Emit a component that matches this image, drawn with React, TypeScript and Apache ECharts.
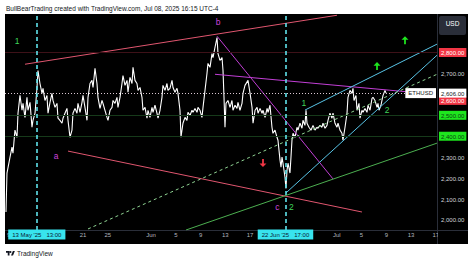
import React, { useEffect, useRef } from "react";
import * as echarts from "echarts";

// ETHUSD price path: [day index (0 = 1 May 2025), price]
const pricePoints: [number, number][] = [
  [7.56, 2038], [7.72, 2224], [8.21, 2300], [8.53, 2348], [8.69, 2319], [9.01, 2429], [9.34, 2395], [9.5, 2510],
  [9.82, 2595], [10.15, 2524], [10.31, 2557], [10.63, 2490], [10.95, 2586], [11.11, 2524], [11.44, 2562], [11.76, 2443],
  [11.92, 2476], [12.25, 2510], [12.57, 2633], [12.73, 2714], [13.05, 2652], [13.38, 2605], [13.54, 2629], [13.86, 2571],
  [14.18, 2595], [14.35, 2510], [14.67, 2562], [14.99, 2605], [15.15, 2571], [15.48, 2538], [15.8, 2557], [15.96, 2486],
  [16.28, 2476], [16.61, 2462], [16.77, 2486], [17.09, 2510], [17.41, 2533], [17.58, 2476], [17.9, 2395], [18.22, 2429],
  [18.38, 2510], [18.71, 2533], [19.03, 2510], [19.19, 2557], [19.52, 2514], [19.84, 2562], [20.0, 2595], [20.32, 2538],
  [20.65, 2476], [20.81, 2586], [21.13, 2652], [21.45, 2667], [21.62, 2633], [21.94, 2724], [22.26, 2652], [22.42, 2586],
  [22.75, 2533], [23.07, 2571], [23.23, 2557], [23.55, 2524], [23.88, 2490], [24.04, 2476], [24.36, 2524], [24.69, 2538],
  [24.85, 2571], [25.17, 2557], [25.49, 2586], [25.65, 2538], [25.98, 2586], [26.3, 2652], [26.46, 2690], [26.79, 2643],
  [27.11, 2667], [27.27, 2610], [27.59, 2681], [27.92, 2652], [28.08, 2729],
  [28.4, 2667], [28.72, 2652], [28.89, 2619], [29.21, 2633], [29.53, 2586], [29.69, 2524], [30.02, 2538], [30.34, 2486],
  [30.5, 2524], [30.82, 2490], [31.15, 2538], [31.31, 2514], [31.63, 2548], [31.95, 2510], [32.12, 2486], [32.44, 2524],
  [32.76, 2586], [32.92, 2643], [33.25, 2619], [33.57, 2652], [33.73, 2619], [34.05, 2629], [34.38, 2667], [34.54, 2633],
  [34.86, 2610], [35.19, 2629], [35.35, 2605], [35.67, 2524], [35.83, 2395], [36.15, 2462], [36.48, 2490], [36.8, 2476],
  [36.96, 2514], [37.29, 2500], [37.61, 2524], [37.77, 2514], [38.09, 2533], [38.42, 2514], [38.58, 2538], [38.9, 2524],
  [39.22, 2490], [39.39, 2538], [39.71, 2619], [40.03, 2700], [40.19, 2748], [40.52, 2729], [40.84, 2795], [41.0, 2776],
  [41.32, 2824], [41.65, 2871], [41.81, 2795], [42.13, 2762], [42.46, 2776], [42.62, 2714], [42.78, 2586], [42.94, 2443],
  [43.1, 2557], [43.42, 2571], [43.75, 2538], [44.07, 2571], [44.23, 2524], [44.56, 2548], [44.88, 2533], [45.04, 2562],
  [45.36, 2524], [45.69, 2557], [45.85, 2605], [46.17, 2643], [46.66, 2667], [46.99, 2605], [47.31, 2538], [47.47, 2462],
  [47.8, 2524], [48.12, 2538], [48.28, 2510], [48.6, 2533], [48.93, 2510], [49.09, 2524], [49.41, 2490], [49.74, 2533],
  [49.9, 2514],
  [50.21, 2548], [50.53, 2443], [50.69, 2414], [51.02, 2429], [51.34, 2395], [51.5, 2381], [51.83, 2286], [51.99, 2252],
  [52.15, 2300], [52.31, 2271], [52.63, 2205], [52.79, 2150], [52.96, 2238], [53.12, 2271], [53.44, 2224], [53.6, 2300],
  [53.76, 2381], [53.93, 2414], [54.25, 2395], [54.57, 2443], [54.73, 2429], [55.06, 2462], [55.38, 2438], [55.54, 2476],
  [55.86, 2452], [56.03, 2524], [56.19, 2462], [56.51, 2443], [56.83, 2429], [57.16, 2452], [57.48, 2429], [57.8, 2443],
  [57.96, 2438], [58.29, 2452], [58.61, 2443], [58.77, 2462], [59.1, 2438], [59.42, 2452], [59.58, 2476], [59.9, 2510],
  [60.23, 2486], [60.39, 2510], [60.71, 2462], [61.03, 2443], [61.2, 2462], [61.52, 2429], [61.84, 2414], [62.0, 2381],
  [62.33, 2443], [62.65, 2510], [62.81, 2586], [63.13, 2619], [63.46, 2605], [63.62, 2629], [63.78, 2571], [64.1, 2595],
  [64.27, 2524], [64.59, 2557], [64.75, 2486], [65.07, 2524], [65.23, 2514], [65.56, 2533], [65.88, 2514], [66.04, 2548],
  [66.37, 2524], [66.69, 2581], [66.85, 2586], [67.17, 2571], [67.5, 2538], [67.66, 2557], [67.82, 2524], [68.14, 2548],
  [68.3, 2571], [68.47, 2595], [68.79, 2619], [68.95, 2606],
];

// Drawn trend lines: [day, price] end points
const redUpperLine = [[10.63, 2744], [61.03, 2978]];
const redLowerLine = [[17.58, 2329], [65.07, 2038]];
const magentaDiagLine = [[41.65, 2878], [60.39, 2196]];
const magentaFlatLine = [[41.32, 2696], [72.83, 2611]];
const cyanUpperLine = [[55.86, 2525], [77.19, 2840]];
const cyanLowerLine = [[52.79, 2129], [77.19, 2787]];
const greenSolidLine = [[36.64, 1952], [77.19, 2367]];
const greenDashedLine = [[20.81, 1957], [77.19, 2696]];

// Horizontal levels
const redLevels = [2800, 2600];
const greenLevels = [2500, 2400];
const drawnRedLevels = [2800];
const lastPrice = 2606;
const lastPriceLabel = "2,606.00";
const symbolName = "ETHUSD";

// Vertical crosshair markers
const markerDays = [12.54, 52.71];
const markerLabels = ["13 May '25   13:00", "22 Jun '25   17:00"];

// Axis ticks
const xTickDays = [8, 20, 24, 31, 35, 39, 43, 47, 61, 65, 69, 73, 77];
const xTickLabels = ["9", "21", "25", "Jun", "5", "9", "13", "17", "Jul", "5", "9", "13", "17"];
const yTickValues = [2000, 2100, 2200, 2300, 2400, 2500, 2600, 2700, 2800];
const yTickLabels = ["2,000.00", "2,100.00", "2,200.00", "2,300.00", "2,400.00", "2,500.00", "2,600.00", "2,700.00", "2,800.00"];

// Wave annotations
const greenWaveLabels = ["1", "2", "1", "2"];
const greenWavePos = [[9.34, 2854], [53.65, 2064], [55.7, 2558], [69.11, 2525]];
const magentaWaveLabels = ["b", "a", "c"];
const magentaWavePos = [[41.81, 2944], [15.64, 2305], [51.4, 2064]];
const downArrowPos = [[49.08, 2272]];
const upArrowPos = [[67.5, 2735], [72.02, 2859]];

const FONT = "'Liberation Sans', Arial, sans-serif";
const GREEN_TXT = "#3fd65a";
const MAGENTA_TXT = "#cc44dd";
const near = (a: number, b: number) => Math.abs(a - b) < 0.001;

export default function App() {
  const ref = useRef<HTMLDivElement>(null);
  useEffect(() => {
    if (!ref.current) return;
    try {
      echarts.graphic.registerShape(
        "tvlogo",
        echarts.graphic.extendPath(
          "M0 4 H14 V22 H7 V11 H0 Z M18 4 L21 5 L22 8 L21 11 L18 12 L15 11 L14 8 L15 5 Z M27.5 4 H35.5 L28 22 H20 Z",
          {}
        )
      );
    } catch (e) {}
    const chart = echarts.init(ref.current, null, { renderer: "svg" });

    const trend = (data: number[][], color: string, type: any = "solid", width = 1) => ({
      type: "line",
      data,
      symbol: "none",
      silent: true,
      z: 4,
      lineStyle: { color, width, type },
    });

    const arrowDown = "path://M3,0L5,0L5,5L8,5L4,9L0,5L3,5Z";
    const arrowUp = "path://M3,9L5,9L5,4L8,4L4,0L0,4L3,4Z";

    const waveMark = (p: number[], text: string, color: string) => ({
      coord: p,
      symbol: "rect",
      symbolSize: 0,
      label: {
        show: true,
        position: "inside",
        formatter: text,
        color,
        textBorderWidth: 0,
        fontSize: 8.5,
        fontFamily: FONT,
      },
    });

    const option: any = {
      animation: false,
      backgroundColor: "#ffffff",
      textStyle: { fontFamily: FONT },
      grid: { left: 5, top: 14, width: 432, height: 216, containLabel: false, outerBoundsMode: "none" },
      xAxis: {
        type: "value",
        min: 7.4,
        max: 77.19,
        z: 5,
        axisLine: { show: false },
        axisTick: { show: false },
        splitLine: { show: false },
        axisLabel: {
          customValues: [...xTickDays, ...markerDays],
          margin: 1,
          formatter: (v: number) => {
            const m = markerDays.findIndex((d) => near(d, v));
            if (m >= 0) return `{h|${markerLabels[m]}}`;
            const i = xTickDays.findIndex((d) => near(d, v));
            return i >= 0 ? `{n|${xTickLabels[i]}}` : "";
          },
          rich: {
            n: { color: "#b2b5be", fontSize: 6, lineHeight: 7, padding: [2, 3, 2, 3], fontFamily: FONT },
            h: { color: "#0b1a33", backgroundColor: "#38e4ee", fontSize: 6, lineHeight: 7, padding: [2, 4, 2, 4], fontFamily: FONT },
          },
        },
      },
      yAxis: {
        type: "value",
        position: "right",
        min: 1952,
        max: 2984,
        z: 5,
        axisLine: { show: false },
        axisTick: { show: false },
        splitLine: { show: false },
        axisLabel: {
          customValues: [...yTickValues, lastPrice],
          margin: 2,
          formatter: (v: number) => {
            if (near(v, lastPrice)) return `{c|${lastPriceLabel}}`;
            const i = yTickValues.findIndex((d) => near(d, v));
            if (i < 0) return "";
            const t = yTickLabels[i];
            if (v === 2600) return `{gap| }\n{r|${t}}`;
            if (redLevels.includes(v)) return `{r|${t}}`;
            if (greenLevels.includes(v)) return `{g|${t}}`;
            return `{n|${t}}`;
          },
          rich: {
            n: { color: "#d1d4dc", fontSize: 6, lineHeight: 7, padding: [2, 2, 1, 2], fontFamily: FONT },
            r: { color: "#ffffff", backgroundColor: "#f23645", fontSize: 6, lineHeight: 7, padding: [2, 2, 1, 2], fontFamily: FONT },
            g: { color: "#0b3d12", backgroundColor: "#1ee61e", fontSize: 6, lineHeight: 7, padding: [2, 2, 1, 2], fontFamily: FONT },
            c: { color: "#131722", backgroundColor: "#ffffff", fontSize: 6, lineHeight: 7, padding: [2, 2, 1, 2], fontFamily: FONT },
            gap: { fontSize: 1, lineHeight: 12 },
          },
        },
      },
      graphic: [
        { type: "rect", z: 0, shape: { x: 5, y: 14, width: 463, height: 230 }, style: { fill: "#000000" } },
        { type: "line", z: 1, shape: { x1: 437.5, y1: 14, x2: 437.5, y2: 244 }, style: { stroke: "#2a2e39", lineWidth: 1 } },
        { type: "line", z: 1, shape: { x1: 5, y1: 230.5, x2: 468, y2: 230.5 }, style: { stroke: "#2a2e39", lineWidth: 1 } },
        { type: "rect", z: 20, shape: { x: 438, y: 231, width: 30, height: 13 }, style: { fill: "#000000" } },
        { type: "rect", z: 20, shape: { x: 439, y: 16, width: 27, height: 19, r: 2 }, style: { fill: "#2a2e39" } },
        {
          type: "text", z: 21, x: 452.5, y: 23,
          style: { text: "USD", fill: "#ffffff", fontSize: 6.5, fontFamily: FONT, align: "center", verticalAlign: "middle" },
        },
        {
          type: "text", z: 21, x: 6, y: 8,
          style: { text: "BullBearTrading created with TradingView.com, Jul 08, 2025 16:15 UTC-4", fill: "#131722", fontSize: 6.5, fontFamily: FONT, verticalAlign: "middle" },
        },
        { type: "tvlogo", z: 21, x: 6, y: 250, scaleX: 0.25, scaleY: 0.25, style: { fill: "#131722" } },
        {
          type: "text", z: 21, x: 17, y: 253,
          style: { text: "TradingView", fill: "#131722", fontSize: 6.5, fontFamily: FONT, verticalAlign: "middle" },
        },
      ],
      series: [
        {
          type: "line",
          data: pricePoints,
          symbol: "none",
          silent: true,
          z: 3,
          lineStyle: { color: "#ffffff", width: 1.1 },
          markLine: {
            silent: true,
            symbol: ["none", "none"],
            label: { show: false },
            data: [
              ...drawnRedLevels.map((v) => ({ yAxis: v, lineStyle: { color: "#3e1118", width: 1, type: "solid" } })),
              ...greenLevels.map((v) => ({ yAxis: v, lineStyle: { color: "#163a1a", width: 1, type: "solid" } })),
              { yAxis: lastPrice, lineStyle: { color: "#d9c6d2", width: 1, type: [1, 2] } },
              ...markerDays.map((d) => ({ xAxis: d, lineStyle: { color: "#5fe1ea", width: 1.6, type: [4, 3] } })),
            ],
          },
          markPoint: {
            symbol: "rect",
            symbolSize: 0,
            silent: true,
            data: [
              {
                coord: [77.19, lastPrice],
                label: {
                  show: true, position: "left", distance: 1, formatter: symbolName,
                  color: "#131722", backgroundColor: "#ffffff", fontSize: 6, lineHeight: 7, padding: [2, 3, 1, 3], fontFamily: FONT,
                },
              },
              ...greenWavePos.map((p, i) => waveMark(p, greenWaveLabels[i], GREEN_TXT)),
              ...magentaWavePos.map((p, i) => waveMark(p, magentaWaveLabels[i], MAGENTA_TXT)),
            ],
          },
        },
        trend(redUpperLine, "#e0566f"),
        trend(redLowerLine, "#e0566f"),
        trend(magentaDiagLine, "#c23fd6"),
        trend(magentaFlatLine, "#c23fd6"),
        trend(cyanUpperLine, "#58c4e6"),
        trend(cyanLowerLine, "#58c4e6"),
        trend(greenSolidLine, "#4caf50"),
        trend(greenDashedLine, "#8fd393", [3, 3]),
        {
          type: "scatter",
          silent: true,
          z: 6,
          symbol: arrowDown,
          symbolSize: [7, 8],
          itemStyle: { color: "#f23645", opacity: 1 },
          data: downArrowPos,
        },
        {
          type: "scatter",
          silent: true,
          z: 6,
          symbol: arrowUp,
          symbolSize: [7, 8],
          itemStyle: { color: "#1ee61e", opacity: 1 },
          data: upArrowPos,
        },
      ],
    };
    chart.setOption(option);
    return () => chart.dispose();
  }, []);

  return (
    <div
      ref={ref}
      style={{ position: "absolute", left: 0, top: 0, width: 474, height: 263 }}
    />
  );
}
